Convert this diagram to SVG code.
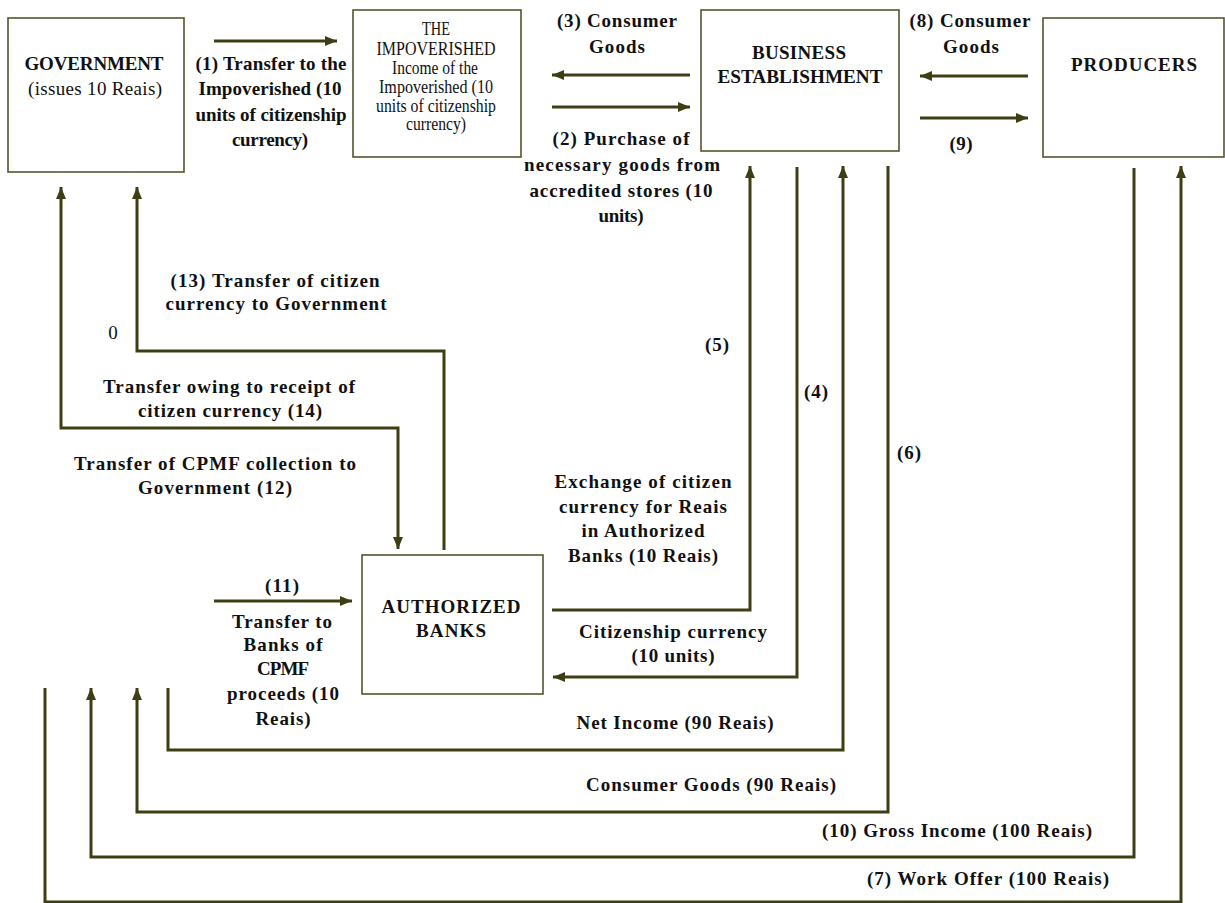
<svg xmlns="http://www.w3.org/2000/svg" width="1225" height="903" viewBox="0 0 1225 903">
<style>
.box{fill:#fff;stroke:#55552f;stroke-width:1.6}
.ln{fill:none;stroke:#3e3e14;stroke-width:3;stroke-linejoin:miter}
.arr{marker-end:url(#ah)}
text{font-family:"Liberation Serif","Times New Roman",serif;fill:#111;text-anchor:middle}
.b{font-size:19px;font-weight:bold}
.n{font-size:19px}
.c{font-size:18px}
</style>
<defs>
<marker id="ah" markerUnits="userSpaceOnUse" markerWidth="13" markerHeight="11" refX="12" refY="5" orient="auto-start-reverse" viewBox="0 0 13 11">
<path d="M0,0 L12,5 L0,10 z" fill="#3e3e14"/>
</marker>
</defs>
<rect width="1225" height="903" fill="#fff"/>

<g id="connectors">
<path class="ln arr" d="M214,41 H337"/>
<path class="ln arr" d="M690,75 H552"/>
<path class="ln arr" d="M552,107 H690"/>
<path class="ln arr" d="M1028,76 H920"/>
<path class="ln arr" d="M920,118 H1028"/>
<path class="ln arr" d="M444,550 V351 H137 V187"/>
<path class="ln arr" style="marker-start:url(#ah)" d="M61,187 V428 H398 V549"/>
<path class="ln arr" d="M552,610 H750 V166"/>
<path class="ln arr" d="M797,167 V677 H553"/>
<path class="ln arr" d="M168,688 V750 H843 V166"/>
<path class="ln arr" d="M888,166 V812 H137 V688"/>
<path class="ln arr" d="M1134,168 V857 H91 V688"/>
<path class="ln arr" d="M45,688 V902 H1181 V166"/>
<path class="ln arr" d="M214,601 H352"/>
</g>

<g id="government">
<rect class="box" x="8" y="18" width="176" height="154"/>
<text class="b" x="94" y="70" textLength="139">GOVERNMENT</text>
<text class="n" x="95" y="95" textLength="134">(issues 10 Reais)</text>
</g>

<g id="impoverished">
<rect class="box" x="353" y="10" width="168" height="147"/>
<text class="c" x="436" y="35" textLength="28" lengthAdjust="spacingAndGlyphs">THE</text>
<text class="c" x="436" y="55" textLength="119" lengthAdjust="spacingAndGlyphs">IMPOVERISHED</text>
<text class="c" x="435" y="74" textLength="86" lengthAdjust="spacingAndGlyphs">Income of the</text>
<text class="c" x="436" y="93" textLength="114" lengthAdjust="spacingAndGlyphs">Impoverished (10</text>
<text class="c" x="436" y="112" textLength="120" lengthAdjust="spacingAndGlyphs">units of citizenship</text>
<text class="c" x="436" y="130" textLength="60" lengthAdjust="spacingAndGlyphs">currency)</text>
</g>

<g id="business">
<rect class="box" x="701" y="10" width="198" height="141"/>
<text class="b" x="799" y="59" textLength="94">BUSINESS</text>
<text class="b" x="800" y="83" textLength="165" lengthAdjust="spacingAndGlyphs">ESTABLISHMENT</text>
</g>

<g id="producers">
<rect class="box" x="1043" y="18" width="181" height="139"/>
<text class="b" x="1134" y="71" textLength="126">PRODUCERS</text>
</g>

<g id="banks">
<rect class="box" x="362" y="555" width="181" height="139"/>
<text class="b" x="451" y="613" textLength="139">AUTHORIZED</text>
<text class="b" x="451" y="637" textLength="70">BANKS</text>
</g>

<g id="labels">
<text class="b" x="271" y="70" textLength="151">(1) Transfer to the</text>
<text class="b" x="270" y="95" textLength="143">Impoverished (10</text>
<text class="b" x="271" y="121" textLength="151">units of citizenship</text>
<text class="b" x="270" y="146" textLength="76">currency)</text>

<text class="b" x="617" y="27" textLength="120">(3) Consumer</text>
<text class="b" x="617" y="53" textLength="56">Goods</text>

<text class="b" x="621" y="145" textLength="137">(2) Purchase of</text>
<text class="b" x="622" y="171" textLength="196">necessary goods from</text>
<text class="b" x="621" y="197" textLength="183">accredited stores (10</text>
<text class="b" x="621" y="222" textLength="45">units)</text>

<text class="b" x="970" y="27" textLength="121">(8) Consumer</text>
<text class="b" x="971" y="53" textLength="56">Goods</text>
<text class="b" x="961" y="150" textLength="23">(9)</text>

<text class="b" x="275" y="287" textLength="209">(13) Transfer of citizen</text>
<text class="b" x="276" y="310" textLength="221">currency to Government</text>
<text class="n" x="113" y="339">0</text>
<text class="b" x="229" y="393" textLength="252">Transfer owing to receipt of</text>
<text class="b" x="230" y="417" textLength="184">citizen currency (14)</text>
<text class="b" x="215" y="470" textLength="282">Transfer of CPMF collection to</text>
<text class="b" x="215" y="494" textLength="154">Government (12)</text>

<text class="b" x="717" y="351" textLength="24">(5)</text>
<text class="b" x="816" y="398" textLength="24">(4)</text>
<text class="b" x="909" y="459" textLength="24">(6)</text>

<text class="b" x="643" y="488" textLength="177">Exchange of citizen</text>
<text class="b" x="643" y="513" textLength="168">currency for Reais</text>
<text class="b" x="643" y="537" textLength="123">in Authorized</text>
<text class="b" x="643" y="562" textLength="150">Banks (10 Reais)</text>

<text class="b" x="673" y="638" textLength="188">Citizenship currency</text>
<text class="b" x="673" y="662" textLength="83">(10 units)</text>

<text class="b" x="282" y="592" textLength="34">(11)</text>
<text class="b" x="282" y="628" textLength="100">Transfer to</text>
<text class="b" x="283" y="651" textLength="79">Banks of</text>
<text class="b" x="283" y="675" textLength="52">CPMF</text>
<text class="b" x="283" y="700" textLength="112">proceeds (10</text>
<text class="b" x="283" y="725" textLength="55">Reais)</text>

<text class="b" x="675" y="729" textLength="197">Net Income (90 Reais)</text>
<text class="b" x="711" y="791" textLength="250">Consumer Goods (90 Reais)</text>
<text class="b" x="957" y="837" textLength="270">(10) Gross Income (100 Reais)</text>
<text class="b" x="988" y="885" textLength="242">(7) Work Offer (100 Reais)</text>
</g>
</svg>
